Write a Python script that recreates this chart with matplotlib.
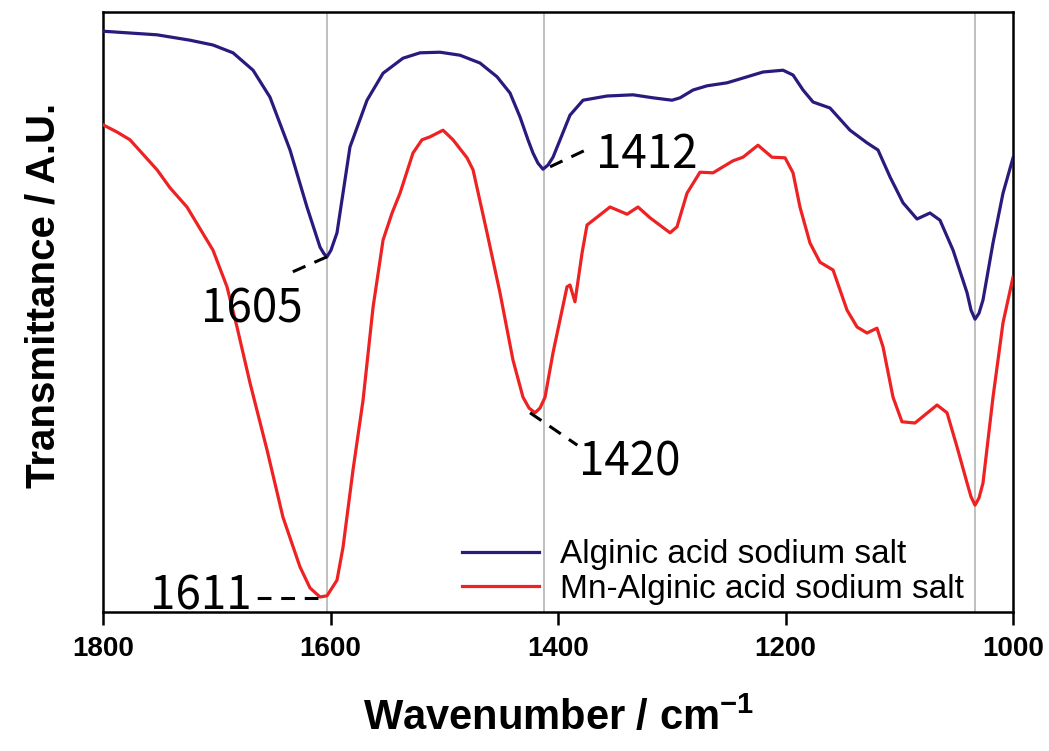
import matplotlib
matplotlib.use("Agg")
import matplotlib.pyplot as plt

# FT-IR spectra (wavenumber in cm-1, transmittance in A.U.)
wn_alg = [1800, 1752.5, 1723.5, 1703.3, 1685.7, 1668.1, 1653.2, 1635.6, 1620.7, 1609.2,
          1605.7, 1603.1, 1599.6, 1594.3, 1582.9, 1567.9, 1553.8, 1536.3, 1521.3, 1503.7,
          1486.2, 1468.6, 1453.6, 1442.2, 1433.4, 1426.4, 1422.0, 1417.6, 1413.2, 1408.8,
          1404.4, 1398.2, 1389.5, 1378.0, 1356.9, 1334.1, 1316.5, 1299.8, 1292.7, 1281.3,
          1269.0, 1251.4, 1233.8, 1219.8, 1202.2, 1193.4, 1184.6, 1175.8, 1160.9, 1143.3,
          1128.4, 1118.7, 1108.1, 1096.7, 1084.4, 1073.0, 1064.2, 1052.7, 1040.4, 1036.9,
          1033.4, 1029.9, 1026.4, 1017.6, 1008.8, 1000]
t_alg = [96.8, 96.2, 95.3, 94.5, 93.2, 90.3, 85.8, 77.0, 67.5, 60.8,
         59.7, 59.2, 60.3, 63.2, 77.5, 85.3, 89.8, 92.3, 93.2, 93.3,
         92.8, 91.5, 89.2, 86.5, 82.5, 78.7, 76.5, 74.8, 73.8, 74.5,
         75.8, 78.7, 82.8, 85.3, 86.0, 86.2, 85.7, 85.3, 85.7, 87.0,
         87.7, 88.2, 89.2, 90.0, 90.3, 89.5, 87.0, 85.0, 84.0, 80.3,
         78.2, 77.0, 72.5, 68.2, 65.5, 66.5, 65.3, 60.3, 53.2, 50.3,
         48.8, 49.8, 52.0, 61.5, 69.8, 75.7]

wn_mn = [1800, 1787.7, 1776.3, 1752.5, 1741.1, 1726.2, 1703.3, 1691.0, 1682.2, 1670.8,
         1655.8, 1641.8, 1626.8, 1618.0, 1609.2, 1603.1, 1594.3, 1589.0, 1580.2, 1571.4,
         1562.6, 1553.8, 1545.9, 1538.9, 1527.5, 1519.6, 1512.5, 1501.1, 1492.3, 1480.0,
         1474.7, 1462.4, 1451.0, 1439.6, 1430.8, 1425.5, 1420.2, 1415.8, 1411.4, 1404.4,
         1392.1, 1389.5, 1385.1, 1378.9, 1374.5, 1365.7, 1354.3, 1339.3, 1329.7, 1319.1,
         1301.5, 1295.4, 1286.6, 1275.2, 1263.7, 1246.2, 1237.4, 1224.2, 1211.9, 1200.4,
         1193.4, 1187.3, 1178.5, 1169.7, 1158.2, 1145.9, 1137.1, 1128.4, 1119.6, 1114.3,
         1105.5, 1097.6, 1086.2, 1066.8, 1058.0, 1049.2, 1040.4, 1036.9, 1033.4, 1029.9,
         1026.4, 1017.6, 1008.8, 1000]
t_mn = [81.2, 80.0, 78.7, 73.7, 70.7, 67.5, 60.3, 54.2, 47.5, 38.2,
        27.0, 15.8, 7.5, 4.0, 2.5, 2.7, 5.3, 10.8, 23.7, 35.3,
        50.8, 62.0, 66.5, 69.8, 76.5, 78.7, 79.2, 80.3, 78.7, 75.7,
        73.7, 63.2, 53.2, 42.0, 35.8, 34.0, 33.2, 34.0, 35.8, 43.2,
        54.2, 54.5, 51.7, 59.8, 64.5, 65.8, 67.5, 66.3, 67.5, 65.7,
        63.2, 64.2, 69.8, 73.3, 73.2, 75.2, 75.8, 77.8, 75.8, 75.7,
        73.2, 67.5, 61.5, 58.3, 57.0, 50.3, 47.5, 46.5, 47.3, 44.2,
        35.8, 31.7, 31.5, 34.5, 33.2, 27.5, 21.5, 19.2, 17.8, 19.0,
        21.5, 35.8, 48.2, 55.8]

labels = ["Alginic acid sodium salt", "Mn-Alginic acid sodium salt"]
ref_lines = [1603, 1412, 1033]
peak_labels = ["1605", "1412", "1420", "1611"]
xticks = [1800, 1600, 1400, 1200, 1000]

plt.rcParams["mathtext.fontset"] = "custom"
plt.rcParams["mathtext.bf"] = "Liberation Sans:bold"
plt.rcParams["mathtext.rm"] = "Liberation Sans:bold"

fig = plt.figure(figsize=(10.49, 7.51), dpi=100)
ax = fig.add_axes([0.0982, 0.1851, 0.8675, 0.7989])

for w in ref_lines:
    ax.axvline(w, color="#b4b4b4", lw=1.2, zorder=1)

ax.plot(wn_alg, t_alg, color="#2b1a7e", lw=2.3, label=labels[0],
        solid_joinstyle="round", zorder=3)
ax.plot(wn_mn, t_mn, color="#ee2222", lw=2.3, label=labels[1],
        solid_joinstyle="round", zorder=3)

# peak annotations: dashed leader + number
dash = dict(color="black", lw=2.2, ls=(0, (4.5, 3.2)), zorder=4)
ax.plot([1603.1, 1635.6], [59.2, 56.5], **dash)
ax.plot([1407.0, 1370.1], [74.2, 77.5], **dash)
ax.plot([1424.6, 1383.0], [33.2, 27.8], **dash)
ax.plot([1611.0, 1668.1], [2.3, 2.3], **dash)

tfont = dict(family=["Noto Sans CJK KR", "DejaVu Sans"], fontsize=33,
             ha="center", va="baseline", zorder=5)
ax.text(1669.0, 48.2, peak_labels[0], **tfont)
ax.text(1321.8, 74.0, peak_labels[1], **tfont)
ax.text(1336.7, 22.8, peak_labels[2], **tfont)
ax.text(1713.9, 0.4, peak_labels[3], **tfont)

ax.set_xlim(1800, 1000)
ax.set_ylim(0, 100)
ax.set_xticks(xticks)
ax.set_yticks([])
ax.tick_params(axis="x", direction="out", length=9, width=1.8, pad=8)
for lab in ax.get_xticklabels():
    lab.set_fontfamily("Liberation Sans")
    lab.set_fontweight("bold")
    lab.set_fontsize(20)
for s in ax.spines.values():
    s.set_linewidth(1.8)

ax.set_xlabel(r"Wavenumber / cm$^{\mathbf{-1}}$", fontfamily="Liberation Sans",
              fontweight="bold", fontsize=30, labelpad=26)
ax.set_ylabel("Transmittance / A.U.", fontfamily="Liberation Sans",
              fontweight="bold", fontsize=29)
ax.yaxis.set_label_coords(-0.045, 0.528)

leg = ax.legend(loc="lower left", bbox_to_anchor=(0.3945, 0.012), frameon=False,
                prop={"family": "Liberation Sans", "size": 24}, handlelength=2.3,
                handletextpad=0.65, labelspacing=0.1, borderpad=0, borderaxespad=0)

fig.savefig("out.png", dpi=100)
